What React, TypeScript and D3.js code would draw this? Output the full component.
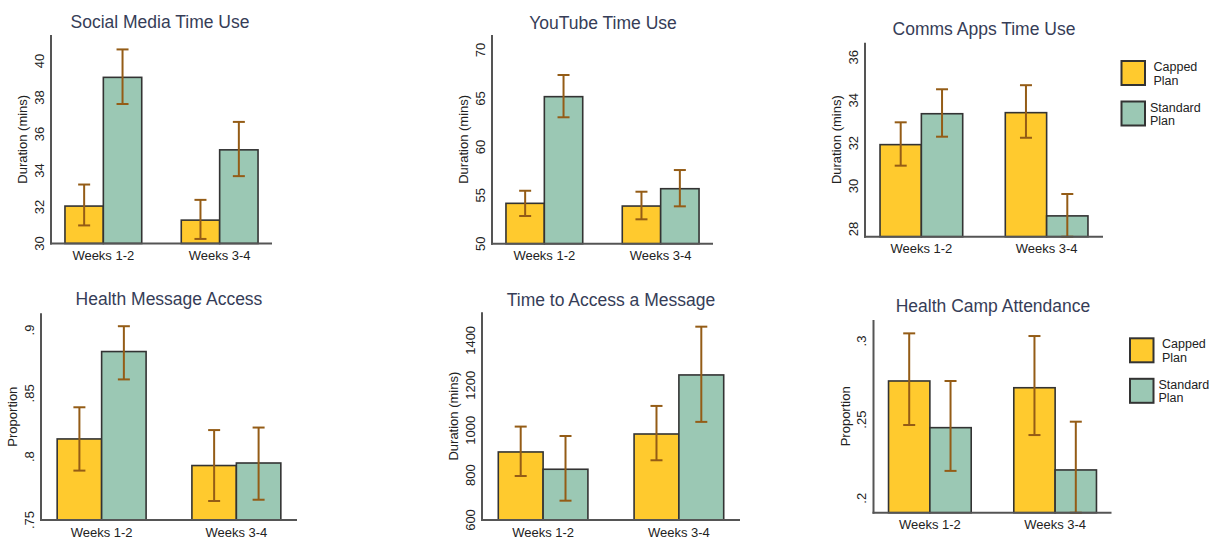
import { useRef, useEffect } from "react";
import * as d3 from "d3";

const weeks = ["Weeks 1-2", "Weeks 3-4"];
const plans = ["Capped", "Standard"];

// mean per week, then [low, high] of the confidence interval per week
const socialCapped = [32.05, 31.28];
const socialCappedCI = [[30.99, 33.23], [30.25, 32.39]];
const socialStandard = [39.1, 35.13];
const socialStandardCI = [[37.64, 40.63], [33.69, 36.66]];

const youtubeCapped = [54.17, 53.89];
const youtubeCappedCI = [[52.86, 55.47], [52.52, 55.37]];
const youtubeStandard = [65.19, 55.68];
const youtubeStandardCI = [[63.06, 67.43], [53.86, 57.61]];

const commsCapped = [31.93, 33.42];
const commsCappedCI = [[30.95, 32.97], [32.25, 34.7]];
const commsStandard = [33.37, 28.61];
const commsStandardCI = [[32.3, 34.51], [27.6, 29.63]];

const accessCapped = [0.814, 0.793];
const accessCappedCI = [[0.789, 0.839], [0.765, 0.821]];
const accessStandard = [0.883, 0.795];
const accessStandardCI = [[0.861, 0.903], [0.766, 0.823]];

const timeCapped = [903, 983];
const timeCappedCI = [[796, 1016], [866, 1108]];
const timeStandard = [826, 1246];
const timeStandardCI = [[686, 974], [1037, 1461]];

const campCapped = [0.2746, 0.2703];
const campCappedCI = [[0.2466, 0.3049], [0.2402, 0.3032]];
const campStandard = [0.2449, 0.218];
const campStandardCI = [[0.2174, 0.2746], [0.19, 0.2487]];

const socialTicks = [30, 32, 34, 36, 38, 40];
const youtubeTicks = [50, 55, 60, 65, 70];
const commsTicks = [28, 30, 32, 34, 36];
const accessTicks = [0.75, 0.8, 0.85, 0.9];
const timeTicks = [600, 800, 1000, 1200, 1400];
const campTicks = [0.2, 0.25, 0.3];

const COLORS = ["#ffca2e", "#9bc8b4"];
const ERR = "#945c16";
const FONT = "Arimo, 'Liberation Sans', Arial, sans-serif";

const panels = [
  { title: "Social Media Time Use", yLabel: "Duration (mins)", means: [socialCapped, socialStandard], ci: [socialCappedCI, socialStandardCI], ticks: socialTicks, domain: [30, 41.42], x0: 51, x1: 272, top: 35, bottom: 243.5, titleX: 160, titleY: 28, legend: false },
  { title: "YouTube Time Use", yLabel: "Duration (mins)", means: [youtubeCapped, youtubeStandard], ci: [youtubeCappedCI, youtubeStandardCI], ticks: youtubeTicks, domain: [50, 71.56], x0: 492, x1: 713, top: 35, bottom: 243.7, titleX: 603, titleY: 28.5, legend: false },
  { title: "Comms Apps Time Use", yLabel: "Duration (mins)", means: [commsCapped, commsStandard], ci: [commsCappedCI, commsStandardCI], ticks: commsTicks, domain: [27.64, 36.68], x0: 865, x1: 1103, top: 42.7, bottom: 236.7, titleX: 984, titleY: 35, legend: true },
  { title: "Health Message Access", yLabel: "Proportion", means: [accessCapped, accessStandard], ci: [accessCappedCI, accessStandardCI], ticks: accessTicks, domain: [0.75, 0.9132], x0: 41, x1: 297, top: 313.3, bottom: 520, titleX: 169, titleY: 305, legend: false },
  { title: "Time to Access a Message", yLabel: "Duration (mins)", means: [timeCapped, timeStandard], ci: [timeCappedCI, timeStandardCI], ticks: timeTicks, domain: [600, 1525], x0: 482, x1: 740, top: 312.3, bottom: 520, titleX: 611, titleY: 305.5, legend: false },
  { title: "Health Camp Attendance", yLabel: "Proportion", means: [campCapped, campStandard], ci: [campCappedCI, campStandardCI], ticks: campTicks, domain: [0.1908, 0.3134], x0: 873.5, x1: 1111.5, top: 320, bottom: 512.7, titleX: 993, titleY: 312, legend: true },
];

const fmtTick = (v: number) => (v < 1 ? String(v).replace(/^0/, "") : String(v));

function App() {
  const svgRef = useRef<SVGSVGElement | null>(null);

  useEffect(() => {
    const svg = d3.select(svgRef.current);
    svg.selectAll("*").remove();

    panels.forEach((p) => {
      const g = svg.append("g");
      const y = d3.scaleLinear().domain(p.domain).range([p.bottom, p.top]);
      const x = d3.scaleBand<string>().domain(weeks).range([p.x0, p.x1]).paddingInner(0.34).paddingOuter(0.12);
      const xs = d3.scaleBand<string>().domain(plans).range([0, x.bandwidth()]);

      // Title
      g.append("text")
        .attr("x", p.titleX).attr("y", p.titleY)
        .attr("text-anchor", "middle")
        .attr("font-size", 17.5)
        .attr("fill", "#363d57")
        .text(p.title);

      // Bars
      weeks.forEach((w, wi) => {
        plans.forEach((pl, pi) => {
          const v = p.means[pi][wi];
          g.append("rect")
            .attr("x", (x(w) ?? 0) + (xs(pl) ?? 0))
            .attr("y", y(v))
            .attr("width", xs.bandwidth())
            .attr("height", p.bottom - y(v))
            .attr("fill", COLORS[pi])
            .attr("stroke", "#333")
            .attr("stroke-width", 1.6);
        });
      });

      // Error bars
      weeks.forEach((w, wi) => {
        plans.forEach((pl, pi) => {
          const [lo, hi] = p.ci[pi][wi];
          const cx = (x(w) ?? 0) + (xs(pl) ?? 0) + xs.bandwidth() / 2;
          const ylo = Math.min(y(lo), p.bottom);
          g.append("line")
            .attr("x1", cx).attr("x2", cx)
            .attr("y1", y(hi)).attr("y2", ylo)
            .attr("stroke", ERR).attr("stroke-width", 2);
          [y(hi), ylo].forEach((yy) => {
            g.append("line")
              .attr("x1", cx - 6).attr("x2", cx + 6)
              .attr("y1", yy).attr("y2", yy)
              .attr("stroke", ERR).attr("stroke-width", 2);
          });
        });
      });

      // Axes
      g.append("line")
        .attr("x1", p.x0).attr("x2", p.x0)
        .attr("y1", p.top).attr("y2", p.bottom + 1)
        .attr("stroke", "#555").attr("stroke-width", 2);
      g.append("line")
        .attr("x1", p.x0 - 1).attr("x2", p.x1)
        .attr("y1", p.bottom).attr("y2", p.bottom)
        .attr("stroke", "#555").attr("stroke-width", 2);

      // Y tick labels (rotated)
      p.ticks.forEach((t) => {
        g.append("text")
          .attr("transform", `translate(${p.x0 - 7.5},${y(t)}) rotate(-90)`)
          .attr("text-anchor", "middle")
          .attr("font-size", 13)
          .attr("fill", "#222")
          .text(fmtTick(t));
      });

      // Y axis title
      g.append("text")
        .attr("transform", `translate(${p.x0 - 24},${(p.top + p.bottom) / 2}) rotate(-90)`)
        .attr("text-anchor", "middle")
        .attr("font-size", 13)
        .attr("fill", "#222")
        .text(p.yLabel);

      // X labels
      weeks.forEach((w) => {
        g.append("text")
          .attr("x", (x(w) ?? 0) + x.bandwidth() / 2)
          .attr("y", p.bottom + 16.5)
          .attr("text-anchor", "middle")
          .attr("font-size", 13)
          .attr("fill", "#222")
          .text(w);
      });

      // Legend
      if (p.legend) {
        const lx = p.x1 + 18.5;
        const ly = p.top + 18.3;
        plans.forEach((pl, pi) => {
          const by = ly + pi * 40.5;
          g.append("rect")
            .attr("x", lx).attr("y", by)
            .attr("width", 23.5).attr("height", 24)
            .attr("fill", COLORS[pi])
            .attr("stroke", "#333").attr("stroke-width", 2);
          const tx = lx + 23.5 + (pi === 0 ? 8.5 : 5);
          [pl, "Plan"].forEach((line, li) => {
            g.append("text")
              .attr("x", tx).attr("y", by + 10 + li * 13.5)
              .attr("font-size", 12.5)
              .attr("fill", "#222")
              .text(line);
          });
        });
      }
    });
  }, []);

  return (
    <svg
      ref={svgRef}
      width={1211}
      height={539}
      style={{ position: "absolute", left: 0, top: 0, background: "#fff", fontFamily: FONT }}
    />
  );
}

export default App;
